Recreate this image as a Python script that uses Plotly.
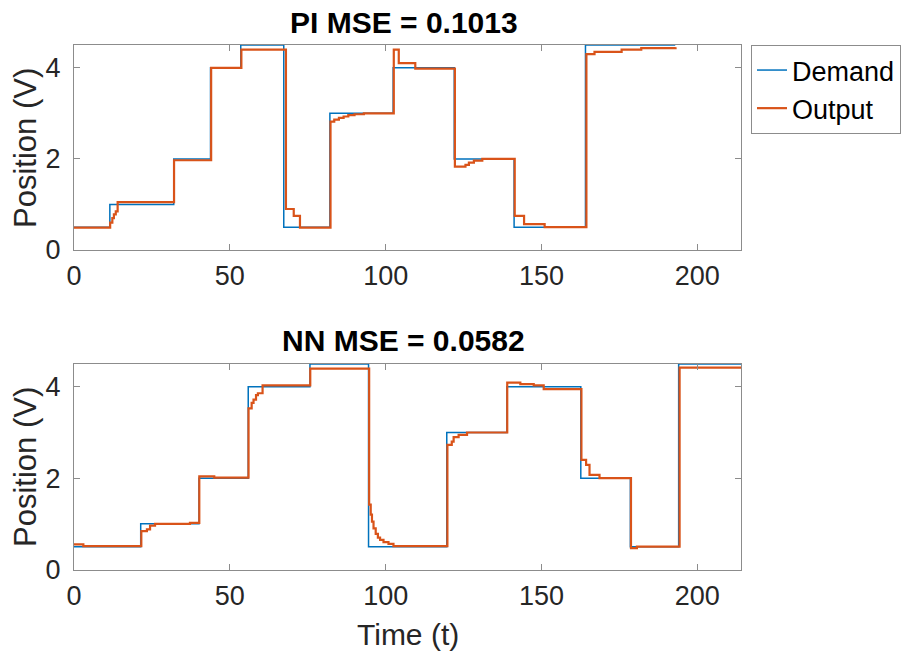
import plotly.graph_objects as go

# ---------------- data ----------------
# Top panel (PI controller)
pi_demand_t = [0, 11.5, 32, 43.8, 53.5, 67.3, 82.1, 102.4, 122, 141.2, 164.1, 192.9]
pi_demand_v = [0.5, 1.0, 2.0, 4.0, 4.5, 0.5, 3.0, 4.0, 2.0, 0.5, 4.5, 4.5]

pi_output_t = [0, 11.6, 12.3, 12.8, 13.4, 14.0, 32.1, 44.0, 53.7, 68.0, 70.5, 72.5,
               82.3, 83.5, 85, 86.5, 88, 90, 93, 102.6, 104.2, 109.5, 122.2, 125.6,
               126.7, 128.3, 131, 141.4, 144.4, 151, 164.4, 167, 175.7, 182, 193]
pi_output_v = [0.49, 0.6, 0.7, 0.78, 0.85, 1.05, 1.97, 4.0, 4.4, 0.9, 0.75, 0.49,
               2.82, 2.86, 2.9, 2.93, 2.96, 2.98, 3.0, 4.4, 4.1, 3.98, 1.83, 1.87,
               1.92, 1.96, 2.0, 0.75, 0.57, 0.5, 4.3, 4.35, 4.4, 4.43, 4.45]

# Bottom panel (NN controller)
nn_demand_t = [0, 21.4, 40.1, 55.9, 75.7, 94.5, 119.6, 138.9, 162.6, 178.5, 194, 214]
nn_demand_v = [0.5, 1.0, 2.0, 4.0, 4.5, 0.5, 3.0, 4.0, 2.0, 0.5, 4.5, 4.5]

nn_output_t = [0, 3, 21.6, 23.4, 24.4, 26, 37.2, 40.2, 45, 56.0, 57.0, 57.6, 58.4, 59.0,
               60.5, 75.8, 94.7, 95.2, 95.6, 96.1, 96.8, 97.5, 98.2, 99.3, 100.9, 102.5,
               119.8, 121.2, 121.8, 123.4, 126.1, 139.0, 143.2, 147.5, 150.7, 162.8,
               164.3, 165.4, 168.6, 178.7, 180.6, 194.3, 214]
nn_output_v = [0.55, 0.51, 0.84, 0.88, 0.96, 1.0, 1.02, 2.04, 2.01, 3.53, 3.65, 3.72, 3.82,
               3.86, 4.03, 4.4, 1.42, 1.2, 1.05, 0.9, 0.78, 0.7, 0.65, 0.6, 0.56, 0.51,
               2.73, 2.8, 2.9, 2.95, 3.0, 4.09, 4.06, 4.03, 3.95, 2.4, 2.29, 2.07, 2.0,
               0.47, 0.5, 4.42, 4.42]

x_ticks = [0, 50, 100, 150, 200]
y_ticks = [0, 2, 4]
titles = ["PI MSE = 0.1013", "NN MSE = 0.0582"]
series_names = ["Demand", "Output"]

# ---------------- style ----------------
BLUE = "#0072BD"
ORANGE = "#D95319"
FONT = "Liberation Sans, Arial, sans-serif"
TXT = "#262626"
W, H = 911, 657

fig = go.Figure()
fig.add_trace(go.Scatter(x=pi_demand_t, y=pi_demand_v, name=series_names[0], mode="lines",
                         line=dict(color=BLUE, width=1.5, shape="hv"), xaxis="x", yaxis="y"))
fig.add_trace(go.Scatter(x=pi_output_t, y=pi_output_v, name=series_names[1], mode="lines",
                         line=dict(color=ORANGE, width=2.2, shape="hv"), xaxis="x", yaxis="y"))
fig.add_trace(go.Scatter(x=nn_demand_t, y=nn_demand_v, name=series_names[0], mode="lines",
                         showlegend=False,
                         line=dict(color=BLUE, width=1.5, shape="hv"), xaxis="x2", yaxis="y2"))
fig.add_trace(go.Scatter(x=nn_output_t, y=nn_output_v, name=series_names[1], mode="lines",
                         showlegend=False,
                         line=dict(color=ORANGE, width=2.2, shape="hv"), xaxis="x2", yaxis="y2"))

xd = [74 / W, 741 / W]
top_dom = [(H - 250) / H, (H - 45) / H]
bot_dom = [(H - 569.5) / H, (H - 364) / H]

common_x = dict(range=[0, 214], tickvals=x_ticks, ticks="inside", ticklen=6, tickcolor="#8c8c8c",
                showline=True, linecolor="#8c8c8c", linewidth=1, mirror="ticks",
                showgrid=False, zeroline=False, tickfont=dict(size=27, color=TXT, family=FONT),
                ticklabelstandoff=2, automargin=False)
common_y = dict(range=[0, 4.5], tickvals=y_ticks, ticks="inside", ticklen=6, tickcolor="#8c8c8c",
                showline=True, linecolor="#8c8c8c", linewidth=1, mirror="ticks",
                showgrid=False, zeroline=False, tickfont=dict(size=27, color=TXT, family=FONT),
                ticklabelstandoff=7, automargin=False)

fig.update_layout(
    width=W, height=H, margin=dict(l=0, r=0, t=0, b=0, autoexpand=False),
    paper_bgcolor="white", plot_bgcolor="white",
    font=dict(family=FONT, color=TXT),
    xaxis=dict(domain=xd, anchor="y", **common_x),
    yaxis=dict(domain=top_dom, anchor="x", **common_y),
    xaxis2=dict(domain=xd, anchor="y2", **common_x),
    yaxis2=dict(domain=bot_dom, anchor="x2", **common_y),
    legend=dict(x=751 / W, y=(H - 45) / H, xanchor="left", yanchor="top",
                bordercolor="#8c8c8c", borderwidth=1, bgcolor="white",
                font=dict(size=27, color="black", family=FONT), tracegroupgap=0),
    showlegend=True,
)

xc = (74 + 741) / 2 / W
annots = [
    dict(text="<b>" + titles[0] + "</b>", x=(xc * W - 4) / W, y=(H - 22) / H, xref="paper", yref="paper",
         xanchor="center", yanchor="middle",
         showarrow=False, font=dict(size=30, color="black", family=FONT)),
    dict(text="<b>" + titles[1] + "</b>", x=(xc * W - 4) / W, y=(H - 340) / H, xref="paper", yref="paper",
         xanchor="center", yanchor="middle",
         showarrow=False, font=dict(size=30, color="black", family=FONT)),
    dict(text="Position (V)", x=25 / W, y=(H - 148) / H, xref="paper", yref="paper",
         xanchor="center", yanchor="middle",
         textangle=-90, showarrow=False, font=dict(size=31, color=TXT, family=FONT)),
    dict(text="Position (V)", x=25 / W, y=(H - 467) / H, xref="paper", yref="paper",
         xanchor="center", yanchor="middle",
         textangle=-90, showarrow=False, font=dict(size=31, color=TXT, family=FONT)),
    dict(text="Time (t)", x=xc, y=(H - 634) / H, xref="paper", yref="paper",
         xanchor="center", yanchor="middle",
         showarrow=False, font=dict(size=30, color=TXT, family=FONT)),
]
fig.update_layout(annotations=annots)

fig.write_html("out.html")
